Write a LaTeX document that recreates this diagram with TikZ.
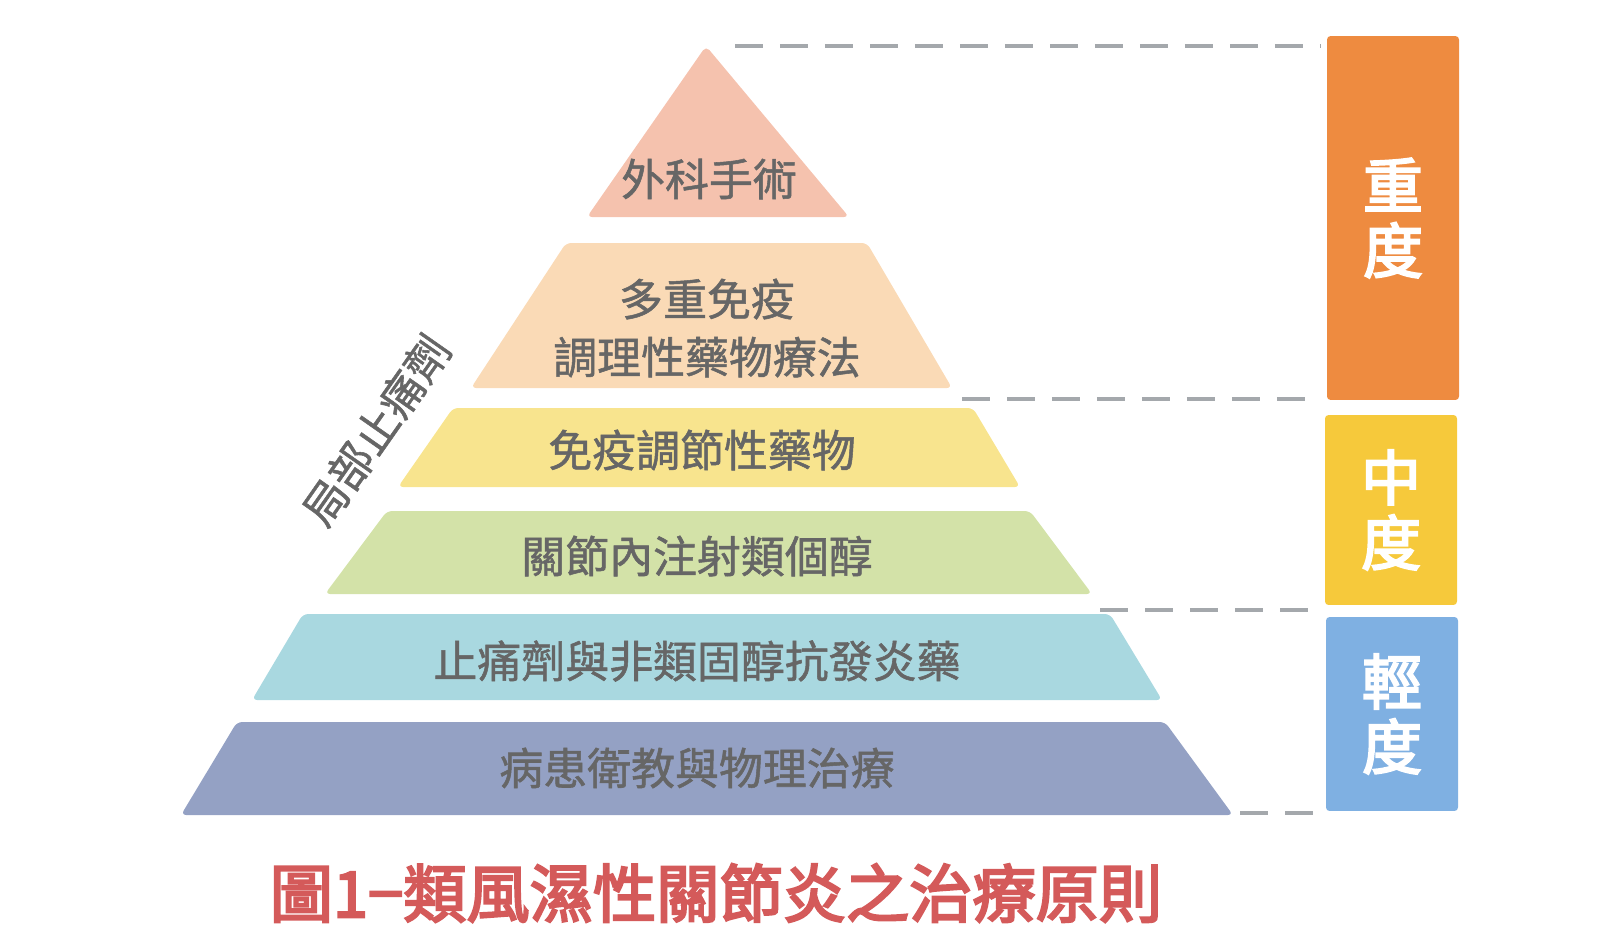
\documentclass[tikz,border=0pt]{standalone}
\usepackage{fontspec}
\setmainfont{Noto Sans CJK TC}
\newfontfamily\tierfont{Noto Sans CJK TC}[FakeBold=1.2]
\newfontfamily\heavyfont{Noto Sans CJK TC}[FakeBold=3.5]
\definecolor{surgery}{HTML}{F5C2AE}
\definecolor{combo}{HTML}{FADAB6}
\definecolor{dmard}{HTML}{F8E48E}
\definecolor{inject}{HTML}{D3E2A8}
\definecolor{nsaid}{HTML}{A9D8E0}
\definecolor{educate}{HTML}{94A1C4}
\definecolor{severebox}{HTML}{EE8B40}
\definecolor{moderatebox}{HTML}{F6C93B}
\definecolor{mildbox}{HTML}{7FB0E2}
\definecolor{textgray}{HTML}{666666}
\definecolor{dashgray}{HTML}{A4A8AC}
\definecolor{titlered}{HTML}{D45A5A}
\tikzset{
	band/.style={rounded corners=3pt},
	tiertext/.style={text=textgray, font=\tierfont\fontsize{25}{33}\selectfont, align=center},
	levelbox/.style={rounded corners=2pt, text=white, font=\heavyfont\fontsize{34}{37}\selectfont, align=center, minimum width=2.64cm, inner sep=0pt},
	dashline/.style={draw=dashgray, line width=2.8pt, dash pattern=on 0.56cm off 0.34cm, shorten >=0.12cm},
}
\begin{document}
\begin{tikzpicture}[x=0.02cm, y=-0.02cm]
	\useasboundingbox (0,0) rectangle (1600,944);

	\fill[band, fill=surgery] (706,46) -- (849,217) -- (587,217) -- cycle;
	\node[tiertext] (surgerytext) at (709,179) {外科手術};

	\fill[band, fill=combo] (566,243) -- (867,243) -- (952,388) -- (471,388) -- cycle;
	\node[tiertext] (combotext) at (707,328) {多重免疫\\調理性藥物療法};

	\fill[band, fill=dmard] (453,408) -- (973,408) -- (1020,487) -- (398,487) -- cycle;
	\node[tiertext] (dmardtext) at (702,450) {免疫調節性藥物};

	\fill[band, fill=inject] (387,511) -- (1030,511) -- (1092,594) -- (325,594) -- cycle;
	\node[tiertext] (injecttext) at (697,556) {關節內注射類個醇};

	\fill[band, fill=nsaid] (303,614) -- (1110,614) -- (1162,700) -- (252,700) -- cycle;
	\node[tiertext] (nsaidtext) at (697,661) {止痛劑與非類固醇抗發炎藥};

	\fill[band, fill=educate] (237,722) -- (1165,722) -- (1233,815) -- (181,815) -- cycle;
	\node[tiertext] (educatetext) at (697,768) {病患衛教與物理治療};

	\node[tiertext, rotate=55] (topical) at (376,430) {局部止痛劑};

	\node[levelbox, fill=severebox, minimum height=7.28cm] (severe) at (1393,218) {重\\度};
	\node[levelbox, fill=moderatebox, minimum height=3.8cm] (moderate) at (1391,510) {中\\度};
	\node[levelbox, fill=mildbox, minimum height=3.88cm] (mild) at (1392,714) {輕\\度};

	\coordinate (tip) at (735,46);
	\coordinate (combocorner) at (962,399);
	\coordinate (nsaidcorner) at (1100,610);
	\coordinate (basecorner) at (1240,813);
	\draw[dashline] (tip) -- (tip -| severe.west);
	\draw[dashline] (combocorner) -- (combocorner -| severe.west);
	\draw[dashline] (nsaidcorner) -- (nsaidcorner -| mild.west);
	\draw[dashline] (basecorner) -- (basecorner -| mild.west);

	\node[text=titlered, font=\heavyfont\fontsize{36}{40}\selectfont] (caption) at (716,893) {圖1−類風濕性關節炎之治療原則};
\end{tikzpicture}
\end{document}
